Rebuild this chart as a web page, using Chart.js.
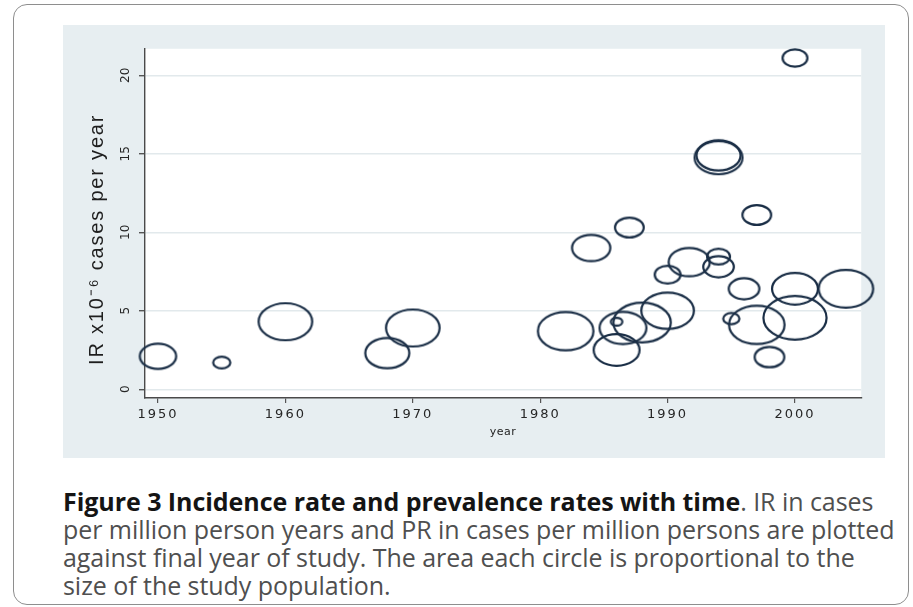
<!DOCTYPE html>
<html>
<head>
<meta charset="utf-8">
<script src="https://cdn.jsdelivr.net/npm/chart.js@4.4.1/dist/chart.umd.min.js"></script>
<style>
  html, body { margin: 0; padding: 0; background: #fff; width: 913px; height: 607px; overflow: hidden; }
  #frame { position: absolute; left: 13px; top: 4px; width: 896px; height: 601px; box-sizing: border-box;
           border: 1.5px solid #8e8e8e; border-radius: 14px; }
  #plot { position: absolute; left: 63px; top: 25px; width: 822px; height: 433px; background: #e7eef1; }
  #caption { position: absolute; left: 63px; top: 487px; font-family: "Open Sans", "Noto Sans", sans-serif;
             font-size: 25px; line-height: 28px; color: #4f4f4f; white-space: nowrap; letter-spacing: -0.05px; }
  #caption b { color: #141414; font-weight: 700; }
</style>
</head>
<body>
<div id="frame"></div>
<canvas id="plot" width="822" height="433"></canvas>
<div id="caption">
  <div><b>Figure 3 Incidence rate and prevalence rates with time</b>. IR in cases</div>
  <div>per million person years and PR in cases per million persons are plotted</div>
  <div>against final year of study. The area each circle is proportional to the</div>
  <div>size of the study population.</div>
</div>
<script>
// Final year of each study, its incidence rate (cases per million per year)
// and the relative size of its study population (area units).
const years = [1950, 1955, 1960, 1968, 1970, 1982, 1984, 1986, 1986.5, 1986, 1987, 1988, 1990, 1990,
               1991.7, 1994, 1994, 1994, 1994, 1995, 1996, 1997, 1997, 1998, 2000, 2000, 2000, 2004];
const rates = [2.1, 1.7, 4.3, 2.3, 3.9, 3.7, 9.0, 2.5, 3.9, 4.3, 10.3, 4.25, 5.0, 7.3,
               8.1, 8.45, 7.8, 14.75, 14.9, 4.5, 6.4, 11.1, 4.1, 2.05, 21.1, 4.55, 6.4, 6.4];
const populations = [3.61, 0.81, 7.84, 5.29, 7.84, 8.41, 4.0, 5.76, 6.0, 0.36, 2.25, 9.0, 7.56, 1.82,
                     4.62, 1.44, 2.56, 6.25, 5.29, 0.72, 2.56, 2.25, 8.41, 2.4, 1.69, 10.89, 5.76, 8.12];
const yearTicks = [1950, 1960, 1970, 1980, 1990, 2000];
const rateTicks = [0, 5, 10, 15, 20];

// Circle area proportional to population: radius grows with the square root.
const RADIUS_PER_SQRT_UNIT = 6.6;
// Markers are drawn as horizontally widened rings.
const RING_WIDEN = 1.45;
const RING_COLOR = '#1a2e46';

const ringCache = new Map();
function ringImage(r) {
  const key = r.toFixed(2);
  if (ringCache.has(key)) return ringCache.get(key);
  const rx = r * RING_WIDEN, ry = r;
  const c = document.createElement('canvas');
  c.width = Math.ceil(rx * 2 + 6);
  c.height = Math.ceil(ry * 2 + 6);
  const g = c.getContext('2d');
  g.strokeStyle = RING_COLOR;
  g.lineWidth = 2.2;
  g.beginPath();
  g.ellipse(c.width / 2, c.height / 2, rx, ry, 0, 0, Math.PI * 2);
  g.stroke();
  ringCache.set(key, c);
  return c;
}

// Linear scale that can draw its tick labels and title with extra letter
// spacing, and slide its title along the axis.
const LinearScale = Chart.LinearScale || Chart.registry.getScale('linear');
const axisText = {
  x: { tickSpacing: 2, titleSpacing: 0.5, titleShift: 0 },
  y: { tickSpacing: 0, titleSpacing: 1.8, titleShift: 16 }
};
class SpacedLinearScale extends LinearScale {
  drawLabels(area) {
    const c = this.ctx;
    const t = axisText[this.id] || {};
    c.save();
    c.letterSpacing = (t.tickSpacing || 0) + 'px';
    super.drawLabels(area);
    c.restore();
  }
  drawTitle() {
    const c = this.ctx;
    const t = axisText[this.id] || {};
    c.save();
    c.letterSpacing = (t.titleSpacing || 0) + 'px';
    if (this.isHorizontal()) c.translate(t.titleShift || 0, 0);
    else c.translate(0, t.titleShift || 0);
    super.drawTitle();
    c.restore();
  }
}
SpacedLinearScale.id = 'spacedLinear';
SpacedLinearScale.defaults = LinearScale.defaults;
Chart.register(SpacedLinearScale);

// White plot region on the tinted graph background.
const plotBackground = {
  id: 'plotBackground',
  beforeDraw(chart) {
    const { ctx, chartArea: a } = chart;
    ctx.save();
    ctx.fillStyle = '#ffffff';
    ctx.fillRect(a.left, a.top, a.right - a.left, a.bottom - a.top);
    ctx.restore();
  }
};

const points = years.map((y, i) => ({
  x: y,
  y: rates[i],
  r: Math.sqrt(populations[i]) * RADIUS_PER_SQRT_UNIT
}));

new Chart(document.getElementById('plot'), {
  type: 'bubble',
  data: {
    datasets: [{
      data: points,
      backgroundColor: 'rgba(0,0,0,0)',
      borderColor: RING_COLOR,
      borderWidth: 2,
      pointStyle: (ctx) => ringImage(ctx.raw ? ctx.raw.r : 5),
      clip: false
    }]
  },
  options: {
    responsive: false,
    animation: false,
    devicePixelRatio: 1,
    layout: { padding: { top: 17, right: 23, left: 0, bottom: 0 } },
    plugins: { legend: { display: false }, tooltip: { enabled: false } },
    scales: {
      x: {
        type: 'spacedLinear',
        min: 1948.98,
        max: 2005.2,
        afterBuildTicks: (s) => { s.ticks = yearTicks.map((v) => ({ value: v })); },
        afterFit: (s) => { s.height = 60; },
        grid: { display: true, drawOnChartArea: false, tickLength: 5, color: '#555', tickColor: '#555', lineWidth: 1.2 },
        border: { display: true, color: '#4a4a4a', width: 1.4 },
        ticks: {
          padding: 4,
          color: '#262626',
          font: { family: 'DejaVu Sans', size: 13 },
          maxRotation: 0,
          callback: (v) => String(v)
        },
        title: {
          display: true,
          text: 'year',
          color: '#222',
          font: { family: 'DejaVu Sans', size: 11 },
          padding: { top: 0, bottom: 19 }
        }
      },
      y: {
        type: 'spacedLinear',
        min: -0.56,
        max: 21.69,
        afterBuildTicks: (s) => { s.ticks = rateTicks.map((v) => ({ value: v })); },
        afterFit: (s) => { s.width = 82; },
        grid: { color: '#e2e9ec', tickColor: '#555', lineWidth: 1.4, tickLength: 6 },
        border: { display: true, color: '#4a4a4a', width: 1.4 },
        ticks: {
          padding: 5,
          color: '#262626',
          font: { family: 'DejaVu Sans', size: 12 },
          minRotation: 90,
          maxRotation: 90,
          crossAlign: 'center',
          callback: (v) => String(v)
        },
        title: {
          display: true,
          text: 'IR x10\u207B\u2076 cases per year',
          color: '#1e1e1e',
          font: { family: 'Liberation Sans', size: 20 },
          padding: { top: 22, bottom: 0 }
        }
      }
    }
  },
  plugins: [plotBackground]
});
</script>
</body>
</html>
